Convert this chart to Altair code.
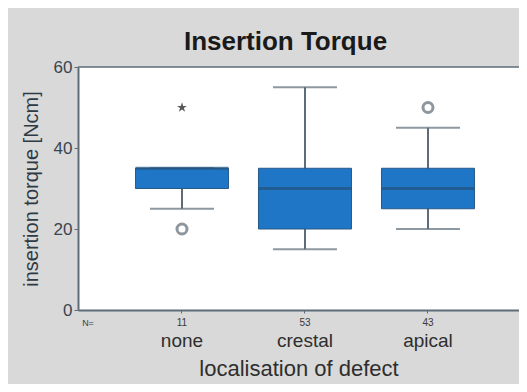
import altair as alt
import pandas as pd

categories = ["none", "crestal", "apical"]
n_counts = ["11", "53", "43"]
q1 = [30, 20, 25]
median = [35, 30, 30]
q3 = [35, 35, 35]
whisker_low = [25, 15, 20]
whisker_high = [35, 55, 45]

outlier_cat = ["none", "apical"]
outlier_val = [20, 50]
extreme_cat = ["none"]
extreme_val = [50]

boxes = pd.DataFrame({
    "cat": categories, "n": n_counts, "q1": q1, "med": median, "q3": q3,
    "lo": whisker_low, "hi": whisker_high,
})
outliers = pd.DataFrame({"cat": outlier_cat, "v": outlier_val})
extremes = pd.DataFrame({"cat": extreme_cat, "v": extreme_val})

FONT = "Liberation Sans"
LINE = "#5d6c78"
BLUE = "#1f76c6"
W = 441

xscale = alt.Scale(domain=categories, paddingInner=0, paddingOuter=0.2927, align=0.59)
yscale = alt.Scale(domain=[0, 60], nice=False)

x_enc = alt.X("cat:N", scale=xscale, sort=categories,
              axis=alt.Axis(title="localisation of defect", labelAngle=0,
                            labelFontSize=19, labelPadding=18, labelColor="#2e2e2e",
                            labelFont=FONT, titleFont=FONT, titleFontSize=22,
                            titleFontWeight="normal", titleColor="#2e2e2e",
                            titlePadding=8, domainColor=LINE, domainWidth=2,
                            tickColor=LINE, tickSize=3, tickWidth=1))
y_axis = alt.Axis(title="insertion torque [Ncm]", values=[0, 20, 40, 60],
                  grid=False, labelFontSize=17, labelFont=FONT, labelColor="#3a4550",
                  labelFontWeight="normal", labelPadding=2,
                  titleFont=FONT, titleFontSize=20, titleFontWeight="normal",
                  titleColor="#2e3a44", titlePadding=12,
                  domainColor=LINE, domainWidth=2, tickColor=LINE, tickSize=4)

base = alt.Chart(boxes)

topline = alt.Chart(pd.DataFrame({"a": [0]})).mark_rule(color=LINE, strokeWidth=1.5).encode(
    x=alt.value(0), x2=alt.value(W), y=alt.value(0))
whisk = base.mark_rule(color=LINE, strokeWidth=2).encode(
    x=x_enc, y=alt.Y("lo:Q", scale=yscale, axis=y_axis), y2="hi:Q")
caps_lo = base.mark_tick(color=LINE, size=64, thickness=2).encode(
    x=x_enc, y=alt.Y("lo:Q", scale=yscale))
caps_hi = base.mark_tick(color=LINE, size=64, thickness=2).encode(
    x=x_enc, y=alt.Y("hi:Q", scale=yscale))
box = base.mark_bar(size=93, color=BLUE, stroke="#285a86", strokeWidth=1).encode(
    x=x_enc, y=alt.Y("q1:Q", scale=yscale), y2="q3:Q")
med = base.mark_tick(color="#22527e", size=93, thickness=3).encode(
    x=x_enc, y=alt.Y("med:Q", scale=yscale))
ntext = base.mark_text(fontSize=10, font=FONT, color="#3a3a3a", baseline="middle").encode(
    x=x_enc, y=alt.value(256), text="n:N")
nlabel = alt.Chart(pd.DataFrame({"t": ["N="]})).mark_text(
    fontSize=9, font=FONT, color="#3a3a3a", baseline="middle").encode(
    x=alt.value(10), y=alt.value(256), text="t:N")

circ = alt.Chart(outliers).mark_point(shape="circle", size=100, filled=False,
                                      stroke="#5f6a76", strokeWidth=3, fill="white").encode(
    x=x_enc, y=alt.Y("v:Q", scale=yscale))
star_path = ("M0,-1L0.2245,-0.309L0.951,-0.309L0.363,0.118L0.588,0.809L0,0.382"
             "L-0.588,0.809L-0.363,0.118L-0.951,-0.309L-0.2245,-0.309Z")
star = alt.Chart(extremes).mark_point(shape=star_path, size=110, filled=True,
                                      color="#111111").encode(
    x=x_enc, y=alt.Y("v:Q", scale=yscale))

chart = alt.layer(whisk, caps_lo, caps_hi, box, med, circ, star, ntext, nlabel, topline).properties(
    width=W, height=243,
    title=alt.TitleParams("Insertion Torque", font=FONT, fontSize=26, fontWeight="bold",
                          color="#1a1a1a", anchor="middle", dx=-13, offset=3),
    background="#d9d9d9",
    autosize=alt.AutoSizeParams(type="none"),
    padding={"left": 70, "top": 59, "right": 0, "bottom": 74},
).configure_view(stroke=None, fill="white")

chart.save("out.html", embed_options={"renderer": "svg", "actions": False})
